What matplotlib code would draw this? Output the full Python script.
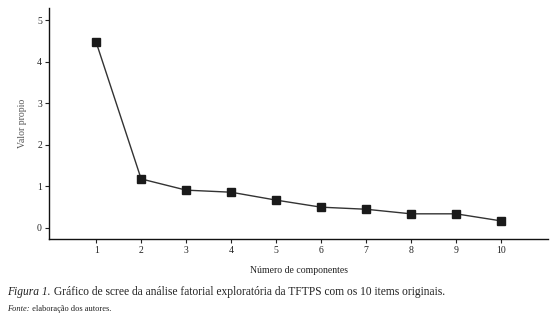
import matplotlib

matplotlib.use("Agg")
import matplotlib.pyplot as plt

# scree plot values
components = [1, 2, 3, 4, 5, 6, 7, 8, 9, 10]
eigenvalues = [4.47, 1.18, 0.91, 0.86, 0.67, 0.50, 0.45, 0.34, 0.34, 0.17]
y_ticks = [0, 1, 2, 3, 4, 5]

plt.rcParams["font.family"] = ["Liberation Serif", "DejaVu Serif"]

fig = plt.figure(figsize=(5.56, 3.26), dpi=100)
ax = fig.add_axes([0.088, 0.267, 0.898, 0.708])

ax.plot(components, eigenvalues, color="#333333", linewidth=1.0,
        marker="s", markersize=5.5, markerfacecolor="#1a1a1a",
        markeredgecolor="#1a1a1a", zorder=3)

ax.set_xlim(-0.05, 11.05)
ax.set_ylim(-0.265, 5.29)
ax.set_xticks(components)
ax.set_yticks(y_ticks)
ax.tick_params(axis="both", labelsize=7, length=3, width=0.8, pad=2,
               colors="#222222")

for side in ("top", "right"):
    ax.spines[side].set_visible(False)
for side in ("left", "bottom"):
    ax.spines[side].set_linewidth(1.0)
    ax.spines[side].set_color("#111111")

ax.set_ylabel("Valor propio", fontsize=7, color="#555555", labelpad=7)
ax.set_xlabel("Número de componentes", fontsize=7, color="#222222", labelpad=8)

# caption
t1 = fig.text(0.013, 0.095, "Figura 1.", fontsize=8.3, style="italic",
              color="#222222", va="baseline")
ax.annotate(" Gráfico de scree da análise fatorial exploratória da TFTPS com os 10 items originais.",
            xy=(1, 0), xycoords=t1, fontsize=8.3, color="#222222",
            va="bottom", ha="left", annotation_clip=False)
t2 = fig.text(0.013, 0.045, "Fonte:", fontsize=6, style="italic",
              color="#222222", va="baseline")
ax.annotate(" elaboração dos autores.", xy=(1, 0), xycoords=t2,
            fontsize=6, color="#222222", va="bottom", ha="left",
            annotation_clip=False)

fig.savefig("out.png", dpi=100)
